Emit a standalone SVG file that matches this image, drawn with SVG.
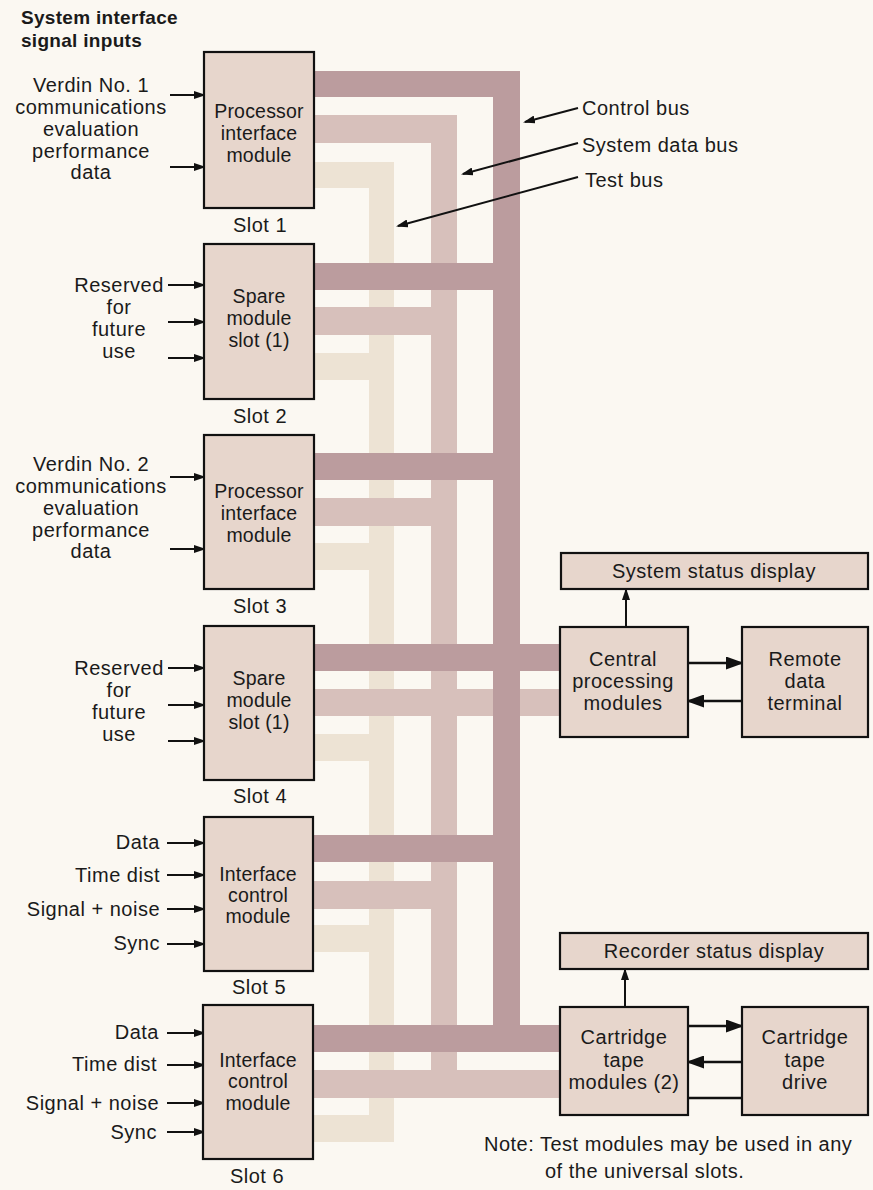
<svg xmlns="http://www.w3.org/2000/svg" width="873" height="1190" viewBox="0 0 873 1190">
<style>
text{font-family:"Liberation Sans",Arial,sans-serif;font-size:20px;fill:#1a1a1a;letter-spacing:0.5px}
.c{text-anchor:middle}
.e{text-anchor:end}
.m{font-size:19.5px;letter-spacing:0.2px}
.b{font-weight:bold;font-size:19px;letter-spacing:0.3px}
.box{fill:#e7d6cc;stroke:#111;stroke-width:2.2}
.ln{stroke:#111;stroke-width:2;fill:none}
.lw{stroke:#111;stroke-width:2.6;fill:none}
.tb{fill:#ede3d4}
.db{fill:#d7c0bb}
.cb{fill:#bb9c9e}
</style>
<defs>
<marker id="ah" markerWidth="12" markerHeight="8" refX="10" refY="4" orient="auto" markerUnits="userSpaceOnUse"><path d="M0,0 L12,4 L0,8 z" fill="#111"/></marker>
<marker id="big" markerWidth="18" markerHeight="13" refX="16" refY="6.5" orient="auto" markerUnits="userSpaceOnUse"><path d="M0,0 L18,6.5 L0,13 z" fill="#111"/></marker>
</defs>
<rect width="873" height="1190" fill="#fbf8f2"/>

<g id="connectors">
<!-- Test bus -->
<g class="tb">
<rect x="314" y="162" width="80" height="26"/>
<rect x="369" y="162" width="25" height="980"/>
<rect x="314" y="353" width="80" height="27"/>
<rect x="314" y="543" width="80" height="27"/>
<rect x="314" y="734" width="80" height="27"/>
<rect x="314" y="925" width="80" height="27"/>
<rect x="314" y="1115" width="80" height="27"/>
</g>
<!-- System data bus -->
<g class="db">
<rect x="314" y="115" width="143" height="28"/>
<rect x="431" y="115" width="26" height="983"/>
<rect x="314" y="307" width="143" height="28"/>
<rect x="314" y="498" width="143" height="28"/>
<rect x="314" y="689" width="246" height="27"/>
<rect x="314" y="881" width="143" height="28"/>
<rect x="314" y="1070" width="246" height="28"/>
</g>
<!-- Control bus -->
<g class="cb">
<rect x="314" y="71" width="206" height="26"/>
<rect x="493" y="71" width="27" height="981"/>
<rect x="314" y="263" width="206" height="27"/>
<rect x="314" y="453" width="206" height="27"/>
<rect x="314" y="644" width="246" height="27"/>
<rect x="314" y="835" width="206" height="27"/>
<rect x="314" y="1025" width="246" height="27"/>
</g>
<!-- bus label pointers -->
<line class="ln" x1="578" y1="108" x2="525" y2="122" marker-end="url(#ah)"/>
<line class="ln" x1="578" y1="143" x2="463" y2="174" marker-end="url(#ah)"/>
<line class="ln" x1="578" y1="177" x2="398" y2="226" marker-end="url(#ah)"/>
<!-- input arrows -->
<line class="ln" x1="170" y1="95" x2="204" y2="95" marker-end="url(#ah)"/>
<line class="ln" x1="170" y1="167" x2="204" y2="167" marker-end="url(#ah)"/>
<line class="ln" x1="168" y1="285" x2="204" y2="285" marker-end="url(#ah)"/>
<line class="ln" x1="168" y1="322" x2="204" y2="322" marker-end="url(#ah)"/>
<line class="ln" x1="168" y1="358" x2="204" y2="358" marker-end="url(#ah)"/>
<line class="ln" x1="170" y1="477" x2="204" y2="477" marker-end="url(#ah)"/>
<line class="ln" x1="170" y1="549" x2="204" y2="549" marker-end="url(#ah)"/>
<line class="ln" x1="168" y1="668" x2="204" y2="668" marker-end="url(#ah)"/>
<line class="ln" x1="168" y1="705" x2="204" y2="705" marker-end="url(#ah)"/>
<line class="ln" x1="168" y1="741" x2="204" y2="741" marker-end="url(#ah)"/>
<line class="ln" x1="167" y1="843" x2="204" y2="843" marker-end="url(#ah)"/>
<line class="ln" x1="167" y1="875" x2="204" y2="875" marker-end="url(#ah)"/>
<line class="ln" x1="167" y1="909" x2="204" y2="909" marker-end="url(#ah)"/>
<line class="ln" x1="167" y1="944" x2="204" y2="944" marker-end="url(#ah)"/>
<line class="ln" x1="167" y1="1033" x2="204" y2="1033" marker-end="url(#ah)"/>
<line class="ln" x1="167" y1="1065" x2="204" y2="1065" marker-end="url(#ah)"/>
<line class="ln" x1="167" y1="1103" x2="204" y2="1103" marker-end="url(#ah)"/>
<line class="ln" x1="167" y1="1132" x2="204" y2="1132" marker-end="url(#ah)"/>
<!-- right side -->
<line class="ln" x1="626" y1="627" x2="626" y2="590" marker-end="url(#ah)"/>
<line class="lw" x1="688" y1="663" x2="742" y2="663" marker-end="url(#big)"/>
<line class="lw" x1="742" y1="701" x2="688" y2="701" marker-end="url(#big)"/>
<line class="ln" x1="625" y1="1007" x2="625" y2="970" marker-end="url(#ah)"/>
<line class="lw" x1="688" y1="1026" x2="742" y2="1026" marker-end="url(#big)"/>
<line class="lw" x1="742" y1="1062" x2="688" y2="1062" marker-end="url(#big)"/>
<line class="lw" x1="688" y1="1098" x2="742" y2="1098"/>
</g>

<g id="title">
<text class="b" x="21" y="24">System interface</text>
<text class="b" x="21" y="47">signal inputs</text>
</g>

<g id="bus-labels">
<text x="582" y="115">Control bus</text>
<text x="582" y="152">System data bus</text>
<text x="585" y="187">Test bus</text>
</g>

<g id="slot1">
<rect class="box" x="204" y="52" width="110" height="156"/>
<text class="c m" x="259" y="118">Processor</text>
<text class="c m" x="259" y="140">interface</text>
<text class="c m" x="259" y="162">module</text>
<text class="c" x="260" y="232">Slot 1</text>
<text class="c" x="91" y="92">Verdin No. 1</text>
<text class="c" x="91" y="114">communications</text>
<text class="c" x="91" y="136">evaluation</text>
<text class="c" x="91" y="158">performance</text>
<text class="c" x="91" y="179">data</text>
</g>

<g id="slot2">
<rect class="box" x="204" y="244" width="110" height="155"/>
<text class="c m" x="259" y="303">Spare</text>
<text class="c m" x="259" y="325">module</text>
<text class="c m" x="259" y="347">slot (1)</text>
<text class="c" x="260" y="423">Slot 2</text>
<text class="c" x="119" y="292">Reserved</text>
<text class="c" x="119" y="314">for</text>
<text class="c" x="119" y="336">future</text>
<text class="c" x="119" y="358">use</text>
</g>

<g id="slot3">
<rect class="box" x="204" y="435" width="110" height="154"/>
<text class="c m" x="259" y="498">Processor</text>
<text class="c m" x="259" y="520">interface</text>
<text class="c m" x="259" y="542">module</text>
<text class="c" x="260" y="613">Slot 3</text>
<text class="c" x="91" y="471">Verdin No. 2</text>
<text class="c" x="91" y="493">communications</text>
<text class="c" x="91" y="515">evaluation</text>
<text class="c" x="91" y="537">performance</text>
<text class="c" x="91" y="558">data</text>
</g>

<g id="slot4">
<rect class="box" x="204" y="626" width="110" height="154"/>
<text class="c m" x="259" y="685">Spare</text>
<text class="c m" x="259" y="707">module</text>
<text class="c m" x="259" y="729">slot (1)</text>
<text class="c" x="260" y="803">Slot 4</text>
<text class="c" x="119" y="675">Reserved</text>
<text class="c" x="119" y="697">for</text>
<text class="c" x="119" y="719">future</text>
<text class="c" x="119" y="741">use</text>
</g>

<g id="slot5">
<rect class="box" x="204" y="817" width="109" height="154"/>
<text class="c m" x="258" y="881">Interface</text>
<text class="c m" x="258" y="902">control</text>
<text class="c m" x="258" y="923">module</text>
<text class="c" x="259" y="994">Slot 5</text>
<text class="e" x="160" y="849">Data</text>
<text class="e" x="160" y="882">Time dist</text>
<text class="e" x="160" y="916">Signal + noise</text>
<text class="e" x="160" y="950">Sync</text>
</g>

<g id="slot6">
<rect class="box" x="203" y="1005" width="110" height="154"/>
<text class="c m" x="258" y="1067">Interface</text>
<text class="c m" x="258" y="1088">control</text>
<text class="c m" x="258" y="1110">module</text>
<text class="c" x="257" y="1183">Slot 6</text>
<text class="e" x="159" y="1039">Data</text>
<text class="e" x="157" y="1071">Time dist</text>
<text class="e" x="159" y="1110">Signal + noise</text>
<text class="e" x="157" y="1139">Sync</text>
</g>

<g id="system-status-display">
<rect class="box" x="561" y="553" width="307" height="36"/>
<text class="c" x="714" y="578">System status display</text>
</g>

<g id="central-processing-modules">
<rect class="box" x="560" y="627" width="128" height="110"/>
<text class="c" x="623" y="666">Central</text>
<text class="c" x="623" y="688">processing</text>
<text class="c" x="623" y="710">modules</text>
</g>

<g id="remote-data-terminal">
<rect class="box" x="742" y="627" width="126" height="110"/>
<text class="c" x="805" y="666">Remote</text>
<text class="c" x="805" y="688">data</text>
<text class="c" x="805" y="710">terminal</text>
</g>

<g id="recorder-status-display">
<rect class="box" x="560" y="933" width="308" height="36"/>
<text class="c" x="714" y="958">Recorder status display</text>
</g>

<g id="cartridge-tape-modules">
<rect class="box" x="560" y="1007" width="128" height="108"/>
<text class="c" x="624" y="1044">Cartridge</text>
<text class="c" x="624" y="1067">tape</text>
<text class="c" x="624" y="1089">modules (2)</text>
</g>

<g id="cartridge-tape-drive">
<rect class="box" x="742" y="1007" width="126" height="108"/>
<text class="c" x="805" y="1044">Cartridge</text>
<text class="c" x="805" y="1067">tape</text>
<text class="c" x="805" y="1089">drive</text>
</g>

<g id="note">
<text x="484" y="1151">Note: Test modules may be used in any</text>
<text x="545" y="1178">of the universal slots.</text>
</g>
</svg>
